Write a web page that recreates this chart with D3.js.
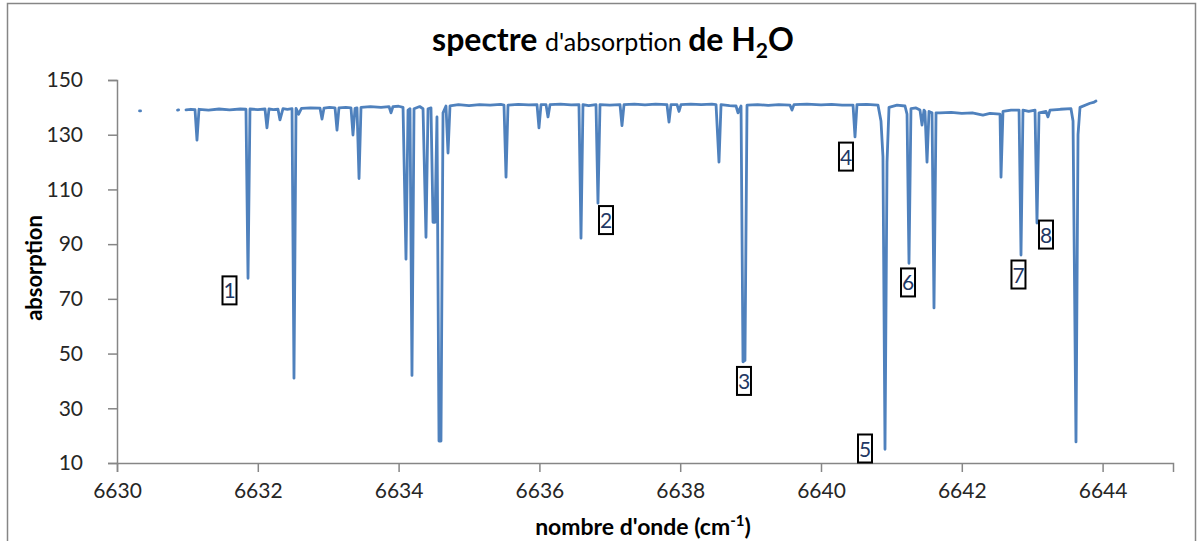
<!DOCTYPE html>
<html>
<head>
<meta charset="utf-8">
<script src="https://cdn.jsdelivr.net/npm/d3@7"></script>
<style>
  body { margin: 0; background: #ffffff; }
  text { font-family: Lato, "Liberation Sans", sans-serif; }
</style>
</head>
<body>
<script>
var SVG_WIDTH = 1203;
var SVG_HEIGHT = 541;

var line_color = "#4F81BD";
var axis_color = "#868686";

// spectrum: [wavenumber, absorption], null = gap in the trace
var spectrum = [
  [6630.32, 138.7], [6630.335, 138.7], null,
  [6630.86, 139.0], [6630.875, 139.1], null,
  [6630.98, 139.1], [6631.05, 139.3], [6631.108, 139.2], [6631.136, 128.0], [6631.165, 139.3],
  [6631.30, 139.0], [6631.45, 139.4], [6631.60, 139.1], [6631.75, 139.4], [6631.832, 139.3],
  [6631.861, 77.5], [6631.889, 139.4], [6632.00, 139.2], [6632.102, 139.4], [6632.13, 132.5],
  [6632.159, 139.4], [6632.22, 139.2], [6632.287, 139.3], [6632.315, 135.4], [6632.358, 139.5],
  [6632.42, 139.3], [6632.486, 139.5], [6632.514, 41.0], [6632.543, 139.6], [6632.58, 137.5],
  [6632.62, 139.6], [6632.75, 139.8], [6632.884, 139.7], [6632.912, 135.7], [6632.94, 139.7],
  [6633.02, 140.0], [6633.097, 139.8], [6633.125, 131.7], [6633.153, 139.8], [6633.25, 140.0],
  [6633.324, 139.8], [6633.352, 129.9], [6633.381, 139.6], [6633.409, 139.8], [6633.438, 114.0],
  [6633.466, 140.0], [6633.60, 140.3], [6633.75, 140.0], [6633.864, 140.3], [6633.892, 138.0],
  [6633.92, 140.3], [6634.00, 140.4], [6634.063, 140.0], [6634.105, 84.5], [6634.134, 139.0],
  [6634.162, 139.5], [6634.19, 42.0], [6634.219, 139.5], [6634.30, 140.3], [6634.347, 139.5],
  [6634.389, 92.5], [6634.418, 139.5], [6634.46, 139.8], [6634.489, 98.0], [6634.517, 98.0],
  [6634.545, 136.5], [6634.574, 18.0], [6634.602, 18.0], [6634.631, 138.0], [6634.673, 140.5],
  [6634.702, 123.3], [6634.73, 140.5], [6634.85, 141.0], [6635.00, 140.6], [6635.15, 141.0],
  [6635.30, 140.8], [6635.45, 141.1], [6635.497, 140.8], [6635.526, 114.5], [6635.554, 140.8],
  [6635.70, 141.1], [6635.85, 140.9], [6635.966, 141.0], [6635.994, 132.5], [6636.023, 141.0],
  [6636.094, 141.0], [6636.122, 136.5], [6636.151, 141.0], [6636.30, 141.2], [6636.45, 140.9],
  [6636.562, 141.0], [6636.591, 92.2], [6636.619, 141.0], [6636.70, 140.6], [6636.804, 141.0],
  [6636.832, 105.0], [6636.861, 141.0], [6637.00, 140.8], [6637.145, 141.0], [6637.173, 133.3],
  [6637.202, 141.0], [6637.35, 141.2], [6637.50, 140.9], [6637.65, 141.2], [6637.812, 141.0],
  [6637.841, 134.6], [6637.869, 141.0], [6637.955, 141.0], [6637.983, 138.5], [6638.011, 141.0],
  [6638.15, 141.2], [6638.30, 141.0], [6638.45, 141.2], [6638.509, 141.0], [6638.551, 120.0],
  [6638.58, 141.0], [6638.70, 140.6], [6638.793, 140.5], [6638.821, 138.0], [6638.864, 140.5],
  [6638.892, 47.0], [6638.92, 47.5], [6638.949, 140.8], [6639.10, 141.0], [6639.25, 140.7],
  [6639.40, 141.0], [6639.56, 140.8], [6639.588, 139.0], [6639.616, 141.0], [6639.80, 141.2],
  [6640.00, 140.9], [6640.15, 141.1], [6640.30, 140.8], [6640.455, 140.8], [6640.483, 129.2],
  [6640.511, 141.0], [6640.65, 141.1], [6640.81, 140.8], [6640.852, 135.0], [6640.88, 122.0],
  [6640.909, 15.0], [6640.938, 120.0], [6640.966, 140.0], [6641.08, 140.8], [6641.193, 140.5],
  [6641.222, 137.5], [6641.25, 83.0], [6641.278, 139.5], [6641.35, 139.8], [6641.406, 139.0],
  [6641.435, 133.5], [6641.463, 139.0], [6641.477, 138.5], [6641.506, 120.0], [6641.534, 138.5],
  [6641.577, 138.0], [6641.605, 66.7], [6641.634, 138.0], [6641.69, 138.0], [6641.85, 138.2],
  [6642.00, 137.8], [6642.15, 138.0], [6642.30, 137.2], [6642.40, 137.8], [6642.543, 137.5],
  [6642.557, 114.5], [6642.585, 138.5], [6642.70, 139.0], [6642.813, 139.0], [6642.841, 86.0],
  [6642.869, 139.0], [6642.95, 138.5], [6643.04, 139.0], [6643.068, 97.7], [6643.097, 138.0],
  [6643.196, 138.5], [6643.224, 136.5], [6643.253, 139.0], [6643.40, 139.3], [6643.551, 139.5],
  [6643.58, 135.0], [6643.622, 17.7], [6643.651, 130.0], [6643.679, 140.0], [6643.821, 141.5],
  [6643.87, 141.8], [6643.906, 142.3]
];

// numbered peak labels
var peak_names = ["1", "2", "3", "4", "5", "6", "7", "8"];
var peak_label_x = [6631.598, 6636.946, 6638.906, 6640.355, 6640.625, 6641.236, 6642.805, 6643.196];
var peak_label_y = [73.1, 98.8, 40.0, 122.0, 15.3, 76.0, 78.9, 93.5];

// axes
var x_domain = [6630, 6645];
var x_ticks = [6630, 6632, 6634, 6636, 6638, 6640, 6642, 6644];
var y_domain = [10, 150];
var y_ticks = [10, 30, 50, 70, 90, 110, 130, 150];

var plot_left = 117, plot_right = 1173, plot_top = 80, plot_bottom = 463;

var svg = d3.select("body").append("svg")
              .attr("width", SVG_WIDTH)
              .attr("height", SVG_HEIGHT);

// chart area border
svg.append("rect")
     .attr("x", 7.5).attr("y", 3.5)
     .attr("width", 1188).attr("height", 560)
     .style("fill", "none")
     .style("stroke", axis_color)
     .style("stroke-width", 1.5);

var x = d3.scaleLinear().domain(x_domain).range([plot_left, plot_right]);
var y = d3.scaleLinear().domain(y_domain).range([plot_bottom, plot_top]);

// Y axis
var y_axis = svg.append("g")
                  .attr("transform", "translate(" + plot_left + ",0)")
                  .call(d3.axisLeft(y).tickValues(y_ticks).tickSize(9).tickPadding(25));
// X axis
var x_axis = svg.append("g")
                  .attr("transform", "translate(0," + plot_bottom + ")")
                  .call(d3.axisBottom(x).tickValues(x_ticks).tickSize(9).tickPadding(11)
                          .tickFormat(d3.format("d")));

[x_axis, y_axis].forEach(function(g) {
  g.select(".domain").style("stroke", axis_color).style("stroke-width", 1.5);
  g.selectAll(".tick line").style("stroke", axis_color).style("stroke-width", 1.5);
  g.selectAll(".tick text").style("font-size", "21px").style("fill", "#262626")
     .style("font-family", "Lato, 'Liberation Sans', sans-serif");
});

// spectrum trace
var line = d3.line()
               .defined(function(d) { return d !== null; })
               .x(function(d) { return x(d[0]); })
               .y(function(d) { return y(d[1]); });

svg.append("path")
     .datum(spectrum)
     .attr("d", line)
     .style("fill", "none")
     .style("stroke", line_color)
     .style("stroke-width", 2.8)
     .style("stroke-linejoin", "round")
     .style("stroke-linecap", "round");

// boxed peak numbers
var labels = svg.append("g").selectAll("g")
                  .data(peak_names).enter()
                .append("g")
                  .attr("transform", function(d, i) {
                    return "translate(" + x(peak_label_x[i]) + "," + y(peak_label_y[i]) + ")";
                  });
labels.append("rect")
        .attr("x", -7).attr("y", -14)
        .attr("width", 14).attr("height", 28)
        .style("fill", "#ffffff")
        .style("stroke", "#000000")
        .style("stroke-width", 2);
labels.append("text")
        .attr("text-anchor", "middle")
        .attr("y", 8)
        .style("font-size", "21px")
        .style("fill", "#1F3864")
        .text(function(d) { return d; });

// title
var title = svg.append("text")
                 .attr("x", 613).attr("y", 51)
                 .attr("text-anchor", "middle")
                 .style("fill", "#000000");
title.append("tspan").style("font-weight", "bold").style("font-size", "32px").text("spectre ");
title.append("tspan").style("font-size", "25px").text("d'absorption ");
title.append("tspan").style("font-weight", "bold").style("font-size", "32px").text("de H");
title.append("tspan").style("font-weight", "bold").style("font-size", "21px").attr("dy", 7).text("2");
title.append("tspan").style("font-weight", "bold").style("font-size", "32px").attr("dy", -7).text("O");

// axis titles
svg.append("text")
     .attr("transform", "translate(42,268) rotate(-90)")
     .attr("text-anchor", "middle")
     .style("font-weight", "bold").style("font-size", "22px")
     .text("absorption");

var x_title = svg.append("text")
                   .attr("x", 643).attr("y", 535)
                   .attr("text-anchor", "middle")
                   .style("font-weight", "bold").style("font-size", "23px");
x_title.append("tspan").text("nombre d'onde (cm");
x_title.append("tspan").style("font-size", "15px").attr("dy", -9).text("-1");
x_title.append("tspan").attr("dy", 9).text(")");
</script>
</body>
</html>
